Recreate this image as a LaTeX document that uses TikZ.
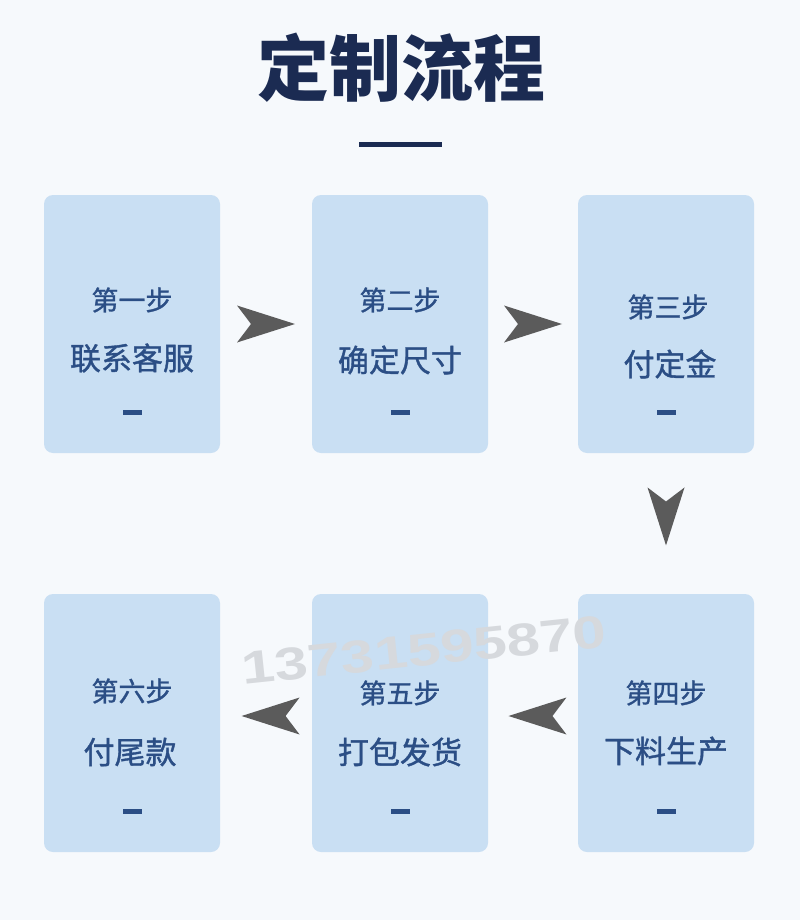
\documentclass[tikz,border=0pt]{standalone}
\usepackage{fontspec}
\newfontfamily\cjk{Noto Sans CJK SC}
\newfontfamily\cjkm[FakeBold=1.2]{Noto Sans CJK SC}
\newfontfamily\wmfont{Liberation Sans}
\usetikzlibrary{calc}
\definecolor{bgc}{HTML}{F6F9FC}
\definecolor{boxc}{HTML}{C9DFF3}
\definecolor{txtc}{HTML}{2B4E85}
\definecolor{titlec}{HTML}{1B2B52}
\definecolor{arrc}{HTML}{5B5B5B}
\definecolor{wmc}{HTML}{D6D9DD}
\begin{document}
\begin{tikzpicture}[x=1pt,y=-1pt,
  stepbox/.style={fill=boxc, draw=none, rounded corners=9pt, minimum width=176pt, minimum height=258pt, inner sep=0pt},
  steplabel/.style={text=txtc, font=\cjkm\fontsize{27}{27}\selectfont, inner sep=0pt},
  stepname/.style={text=txtc, font=\cjkm\fontsize{31}{31}\selectfont, inner sep=0pt},
  stepdash/.style={fill=txtc, draw=none, minimum width=19pt, minimum height=5pt, inner sep=0pt},
  chev/.pic={\fill[arrc] (29,0) -- (-29,-18.5) -- (-15,0) -- (-29,18.5) -- cycle;},
  wm/.style={font=\wmfont\bfseries\fontsize{46}{46}\selectfont, inner sep=0pt, rotate=6, xscale=1.3}
]
\fill[bgc] (0,0) rectangle (800,920);
\useasboundingbox (0,0) rectangle (800,920);

% title
\node[text=titlec, font=\cjk\bfseries\fontsize{72}{72}\selectfont, inner sep=0pt] (title) at (401,68) {定制流程};
\node[fill=titlec, minimum width=83pt, minimum height=5pt, inner sep=0pt] (rule) at (400,145) {};

% boxes
\node[stepbox] (b1) at (132,324) {};
\node[stepbox] (b2) at (400,324) {};
\node[stepbox] (b3) at (666,324) {};
\node[stepbox] (b4) at (666,723) {};
\node[stepbox] (b5) at (400,723) {};
\node[stepbox] (b6) at (132,723) {};

% texts
\node[steplabel] (l1) at (132,300) {第一步};
\node[stepname]  (n1) at (132,358) {联系客服};
\node[stepdash]  (d1) at (132,412) {};

\node[steplabel] (l2) at (400,300) {第二步};
\node[stepname]  (n2) at (400,360) {确定尺寸};
\node[stepdash]  (d2) at (400,412) {};

\node[steplabel] (l3) at (668,307) {第三步};
\node[stepname]  (n3) at (670,364) {付定金};
\node[stepdash]  (d3) at (666,412) {};

\node[steplabel] (l4) at (666,693) {第四步};
\node[stepname]  (n4) at (666,751) {下料生产};
\node[stepdash]  (d4) at (666,811) {};

\node[steplabel] (l5) at (400,693) {第五步};
\node[stepname]  (n5) at (400,752) {打包发货};
\node[stepdash]  (d5) at (400,811) {};

\node[steplabel] (l6) at (132,691) {第六步};
\node[stepname]  (n6) at (130,752) {付尾款};
\node[stepdash]  (d6) at (132,811) {};

% arrows
\pic at ($(b1.east)!0.5!(b2.west)$) {chev};
\pic at ($(b2.east)!0.5!(b3.west)$) {chev};
\pic[rotate=-90] at ($(b3.south)!0.45!(b4.north)$) {chev};
\pic[rotate=180] at ($(b4.west)!0.45!(b5.east)+(0,-7)$) {chev};
\pic[rotate=180] at ($(b5.west)!0.45!(b6.east)+(0,-7)$) {chev};

% watermark
\node[wm, text=wmc] (wmark) at (424,650) {13731595870};
\end{tikzpicture}
\end{document}
